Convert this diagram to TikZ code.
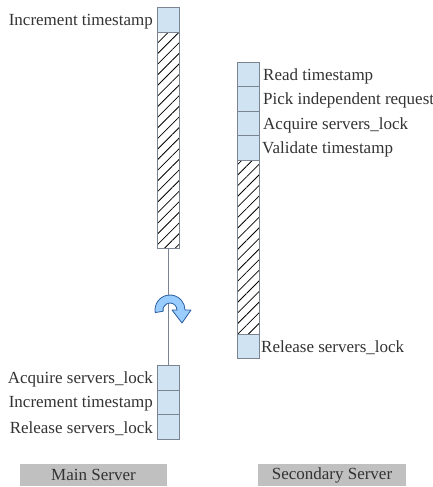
\documentclass[tikz,border=0pt]{standalone}
\usepackage{fontspec}
\setmainfont{Liberation Serif}
\usetikzlibrary{positioning,patterns.meta}

\definecolor{cellfill}{HTML}{CFE3F3}
\definecolor{cellborder}{HTML}{7A8591}
\definecolor{tagfill}{HTML}{C0C0C0}
\definecolor{inktext}{HTML}{333333}
\definecolor{turnfill}{HTML}{99CCFF}
\definecolor{turnborder}{HTML}{2A5D9F}

\tikzset{
  cell/.style={draw=cellborder, fill=cellfill, minimum width=22pt, minimum height=24.5pt,
    inner sep=0pt, outer sep=0pt, line width=0.8pt},
  waitcell/.style={draw=cellborder, line width=0.8pt, inner sep=0pt, outer sep=0pt, minimum width=22pt,
    pattern={Lines[angle=45, distance=7.5pt, line width=0.8pt]}},
  lbl/.style={text=inktext, inner sep=0pt, yshift=-1.5pt, font=\fontsize{17}{20}\selectfont},
  tag/.style={fill=tagfill, text=inktext, minimum width=147pt, minimum height=22pt,
    inner sep=0pt, font=\fontsize{17}{20}\selectfont}
}

\begin{document}
\begin{tikzpicture}[x=1pt, y=-1pt]
  \useasboundingbox (0,0) rectangle (433,487);

  % Main server column
  \node[cell] (m1) at (168,20) {};
  \node[waitcell, minimum height=216pt, below=0pt of m1] (mwait) {};
  \node[cell] (m2) at (168,378) {};
  \node[cell, below=0pt of m2] (m3) {};
  \node[cell, below=0pt of m3] (m4) {};
  \draw[cellborder, line width=0.6pt] (mwait.south) -- (m2.north);

  % Secondary server column
  \node[cell] (s1) at (248,74.5) {};
  \node[cell, below=0pt of s1] (s2) {};
  \node[cell, below=0pt of s2] (s3) {};
  \node[cell, below=0pt of s3] (s4) {};
  \node[waitcell, minimum height=174pt, below=0pt of s4] (swait) {};
  \node[cell, below=0pt of swait] (s5) {};

  % Labels
  \node[lbl, left=4pt of m1] (tm1) {Increment timestamp};
  \node[lbl, left=4pt of m2] (tm2) {Acquire servers\_lock};
  \node[lbl, left=4pt of m3] (tm3) {Increment timestamp};
  \node[lbl, left=4pt of m4] (tm4) {Release servers\_lock};
  \node[lbl, right=4pt of s1] (ts1) {Read timestamp};
  \node[lbl, right=4pt of s2] (ts2) {Pick independent request};
  \node[lbl, right=4pt of s3] (ts3) {Acquire servers\_lock};
  \node[lbl, right=3pt of s4] (ts4) {Validate timestamp};
  \node[lbl, right=2pt of s5] (ts5) {Release servers\_lock};

  % Turn-around arrow on the main line
  \begin{scope}[shift={(170,310)}]
    \draw[turnborder, fill=turnfill, line width=0.8pt, line join=round]
      (170:15) arc (170:360:15) -- (21,0) -- (12,13) -- (2,0) -- (7,0)
      arc (360:170:7) -- cycle;
  \end{scope}

  % Server tags
  \node[tag] (mtag) at (93.5,475) {Main Server};
  \node[tag, minimum width=148pt] (stag) at (332,475) {Secondary Server};
\end{tikzpicture}
\end{document}
